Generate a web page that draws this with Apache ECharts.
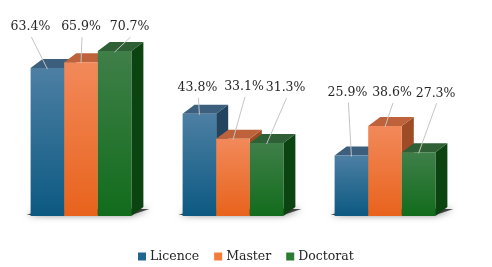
<!DOCTYPE html>
<html>
<head>
<meta charset="utf-8">
<script src="https://cdn.jsdelivr.net/npm/echarts@6/dist/echarts.min.js"></script>
<style>html,body{margin:0;padding:0;background:#fff}#c{width:492px;height:267px}</style>
</head>
<body>
<div id="c"></div>
<script>
const categories = ['Groupe 1', 'Groupe 2', 'Groupe 3'];
const seriesNames = ['Licence', 'Master', 'Doctorat'];
const licence = [63.4, 43.8, 25.9];
const master = [65.9, 33.1, 38.6];
const doctorat = [70.7, 31.3, 27.3];
const seriesValues = [licence, master, doctorat];

// label placement offsets (px) relative to the bar's top-centre
const labelOffsets = [
  [[-17, -41], [-2, -26], [-4, -63]],
  [[0, -35], [11, -52], [7, -33]],
  [[15, -24], [19, -55], [17, -59]]
];

const palettes = [
  {legend: '#1f6690', frontTop: '#4d7fa3', frontBot: '#0c5982', top: '#3b5f7d', side: '#22445e'},
  {legend: '#f47b3b', frontTop: '#f2895a', frontBot: '#e8631c', top: '#bd623b', side: '#9f4c26'},
  {legend: '#2a7d30', frontTop: '#3f7f49', frontBot: '#126c1c', top: '#2f5f35', side: '#0c4411'}
];

const DX = 12, DY = 9, BW_RATIO = 0.221;
const FONT = '"DejaVu Serif", serif';

function makeRender(s) {
  return function (params, api) {
    const idx = api.value(0);
    const val = api.value(1);
    const c = api.coord([idx, val]);
    const b = api.coord([idx, 0]);
    const bw = api.size([1, 0])[0] * BW_RATIO;
    const x0 = c[0] + (s - 1.5) * bw;
    const x1 = x0 + bw;
    const top = c[1];
    const base = b[1];
    const p = palettes[s];
    const cx = (x0 + x1) / 2;
    const off = labelOffsets[s][idx];
    const lx = cx + off[0], ly = top + off[1];
    return {
      type: 'group',
      children: [
        {type: 'polygon', shape: {points: [[x1, top], [x1 + DX, top - DY], [x1 + DX, base - DY], [x1, base]]},
          style: {fill: p.side}},
        {type: 'polygon', shape: {points: [[x0, top], [x1, top], [x1 + DX, top - DY], [x0 + DX, top - DY]]},
          style: {fill: p.top}},
        {type: 'rect', shape: {x: x0, y: top, width: bw, height: base - top},
          style: {fill: new echarts.graphic.LinearGradient(0, 0, 0, 1, [
            {offset: 0, color: p.frontTop}, {offset: 1, color: p.frontBot}])}},
        {type: 'line', shape: {x1: lx + 1, y1: ly + 10, x2: cx, y2: top + 1},
          style: {stroke: '#c4c4c4', lineWidth: 1}},
        {type: 'text', x: lx, y: ly,
          style: {text: val.toFixed(1) + '%', fill: '#262626', font: '12.5px ' + FONT,
            align: 'center', verticalAlign: 'middle'}}
      ]
    };
  };
}

function shadowRender(params, api) {
  const idx = api.value(0);
  const b = api.coord([idx, 0]);
  const bw = api.size([1, 0])[0] * BW_RATIO;
  const gx0 = b[0] - 1.5 * bw, gx1 = b[0] + 1.5 * bw;
  const base = b[1];
  return {
    type: 'polygon',
    shape: {points: [[gx0 - 4, base - 1], [gx1, base - 1], [gx1 + DX + 6, base - DY + 2], [gx0 + DX, base - DY + 2]]},
    style: {fill: 'rgba(0,0,0,0.7)', shadowBlur: 7, shadowColor: 'rgba(0,0,0,0.8)'}
  };
}

const series = [{
  type: 'custom', name: '_shadow', renderItem: shadowRender, z: 1,
  data: categories.map((c, i) => [i, 0]), silent: true
}];
seriesNames.forEach((n, s) => {
  series.push({
    type: 'custom', name: n, renderItem: makeRender(s), z: 2 + s,
    itemStyle: {color: palettes[s].legend},
    data: seriesValues[s].map((v, i) => [i, v])
  });
});

const chart = echarts.init(document.getElementById('c'), null, {renderer: 'canvas'});
chart.setOption({
  animation: false,
  grid: {left: 5, right: 31, top: 29.33, bottom: 51, containLabel: false},
  xAxis: {type: 'category', data: categories, show: false},
  yAxis: {type: 'value', min: 0, max: 80, show: false},
  legend: {
    data: seriesNames, left: 133, top: 245, icon: 'rect', itemWidth: 8, itemHeight: 8,
    itemGap: 15, textStyle: {fontFamily: FONT, fontSize: 12.5, color: '#262626', padding: [0, 0, 0, -1]}
  },
  series: series
});
</script>
</body>
</html>
